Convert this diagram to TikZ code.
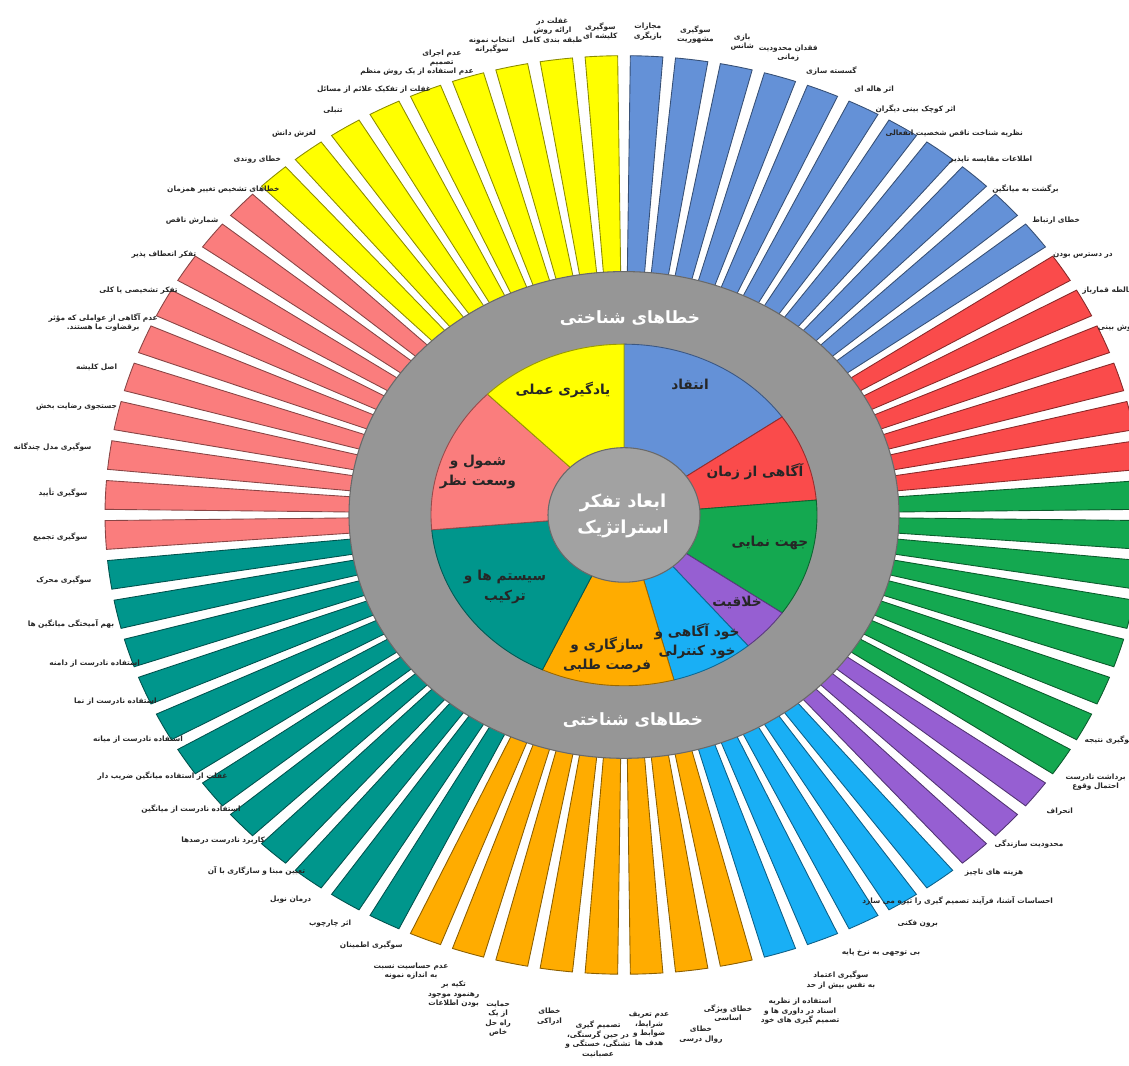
\documentclass[tikz,border=0pt]{standalone}
\usepackage{fontspec}
\TeXXeTstate=1
\newfontfamily\arabicfont[Script=Arabic]{DejaVu Sans}
\newcommand{\fa}[1]{\beginR #1\endR}
\definecolor{cblue}{RGB}{100,145,215}
\definecolor{cred}{RGB}{250,75,75}
\definecolor{cgreen}{RGB}{20,168,80}
\definecolor{cpurple}{RGB}{150,95,210}
\definecolor{ccyan}{RGB}{25,175,245}
\definecolor{corange}{RGB}{255,172,0}
\definecolor{cteal}{RGB}{0,150,140}
\definecolor{cpink}{RGB}{250,125,125}
\definecolor{cyellow}{RGB}{255,255,0}
\definecolor{cring}{RGB}{150,150,150}
\definecolor{ccore}{RGB}{162,162,162}
\tikzset{
  bar/.style={fill=#1, draw=#1!55!black, line width=0.5pt},
  sec/.style={fill=#1, draw=#1!60!black, line width=0.5pt},
  lbl/.style={font=\arabicfont\bfseries\fontsize{4.2}{5.4}\selectfont, align=center, inner sep=1pt, text=black!85},
  seclbl/.style={font=\arabicfont\bfseries\fontsize{7.8}{11}\selectfont, align=center, text=black!85},
  ringlbl/.style={font=\arabicfont\bfseries\fontsize{9.6}{12}\selectfont, text=white},
  corelbl/.style={font=\arabicfont\bfseries\fontsize{10.2}{15}\selectfont, align=center, text=white}
}
\begin{document}
\begin{tikzpicture}[scale=.2, yscale=.885]
\useasboundingbox (-62.4,-62.26) rectangle (50.5,58.19);
\clip (-62.4,-62.26) rectangle (50.5,58.19);

\foreach \s/\n/\c in {90/11/cblue,35/6/cred,5/8/cgreen,-35/3/cpurple,-50/5/ccyan,-75/8/corange,-115/12/cteal,-175/10/cpink,-225/9/cyellow}{
  \foreach \k in {1,...,\n}{
    \pgfmathsetmacro\m{\s-5*\k+2.5}
    \draw[bar=\c] (\m-1.8:25) -- (\m-1.8:51.9) arc[start angle=\m-1.8, end angle=\m+1.8, radius=51.9] -- (\m+1.8:25) -- cycle;
  }
}

\foreach \a/\r/\t in {
  87.5/53.5/{\fa{مجازات}\\\fa{بازیگری}},
  82.5/53.5/{\fa{سوگیری}\\\fa{مشهوریت}},
  77.5/53.5/{\fa{بازی}\\\fa{شانس}},
  72.5/53.5/{\fa{فقدان محدودیت}\\\fa{زمانی}},
  67.5/53.5/{\fa{گسسته سازی}},
  62.5/53.5/{\fa{اثر هاله ای}},
  57.5/53.5/{\fa{اثر کوچک بینی دیگران}},
  52.5/53.5/{\fa{نظریه شناخت ناقص شخصیت انفعالی}},
  47.5/53.5/{\fa{اطلاعات مقایسه ناپذیر}},
  42.5/53.5/{\fa{برگشت به میانگین}},
  37.5/53.5/{\fa{خطای ارتباط}},
  32.5/53.5/{\fa{در دسترس بودن}},
  27.5/53.5/{\fa{مغالطه قمارباز}},
  22.5/53.5/{\fa{سوگیری خوش بینی}},
  -27.5/53.5/{\fa{سوگیری نتیجه}},
  -32.5/54/{\fa{برداشت نادرست}\\\fa{احتمال وقوع}},
  -37.5/54/{\fa{انحراف}},
  -42.5/54/{\fa{محدودیت سازندگی}},
  -47.5/54/{\fa{هزینه های ناچیز}},
  -52.5/54/{\fa{احساسات آشنا، فرآیند تصمیم گیری را تیره می سازد}},
  -57.5/54/{\fa{برون فکنی}},
  -62.5/55/{\fa{بی توجهی به نرخ پایه}},
  -67.5/55.5/{\fa{سوگیری اعتماد}\\\fa{به نفس بیش از حد}},
  -72.5/57/{\fa{استفاده از نظریه}\\\fa{اسناد در داوری ها و}\\\fa{تصمیم گیری های خود}},
  -79.5/56/{\fa{خطای ویژگی}\\\fa{اساسی}},
  -82.5/58/{\fa{خطای}\\\fa{روال درسی}},
  -87.5/56/{\fa{عدم تعریف}\\\fa{شرایط،}\\\fa{ضوابط و}\\\fa{هدف ها}},
  -92.5/57/{\fa{تصمیم گیری}\\\fa{در حین گرسنگی،}\\\fa{تشنگی، خستگی و}\\\fa{عصبانیت}},
  -97.5/56/{\fa{خطای}\\\fa{ادراکی}},
  -102.5/56/{\fa{حمایت}\\\fa{از یک}\\\fa{راه حل}\\\fa{خاص}},
  -107.5/55/{\fa{تکیه بر}\\\fa{رهنمود موجود}\\\fa{بودن اطلاعات}},
  -112.5/54.5/{\fa{عدم حساسیت نسبت}\\\fa{به اندازه نمونه}},
  -117.5/54/{\fa{سوگیری اطمینان}},
  -122.5/54/{\fa{اثر چارچوب}},
  -127.5/54/{\fa{درمان نوبل}},
  -132.5/53.5/{\fa{تعیین مبنا و سازگاری با آن}},
  -137.5/53.5/{\fa{کاربرد نادرست درصدها}},
  -142.5/53.5/{\fa{استفاده نادرست از میانگین}},
  -147.5/53.5/{\fa{غفلت از استفاده میانگین ضریب دار}},
  -152.5/53.5/{\fa{استفاده نادرست از میانه}},
  -157.5/53.5/{\fa{استفاده نادرست از نما}},
  -162.5/53.5/{\fa{استفاده نادرست از دامنه}},
  -167.5/53.5/{\fa{بهم آمیختگی میانگین ها}},
  -172.5/53.5/{\fa{سوگیری محرک}},
  182.5/53.5/{\fa{سوگیری تجمیع}},
  177.5/53.5/{\fa{سوگیری تأیید}},
  172.5/53.5/{\fa{سوگیری مدل چندگانه}},
  167.5/53.5/{\fa{جستجوی رضایت بخش}},
  162.5/53.5/{\fa{اصل کلیشه}},
  157.5/53.5/{\fa{عدم آگاهی از عواملی که مؤثر}\\\fa{برقضاوت ما هستند.}},
  152.5/53.5/{\fa{تفکر تشخیصی یا کلی}},
  147.5/53.5/{\fa{تفکر انعطاف پذیر}},
  142.5/53.5/{\fa{شمارش ناقص}},
  137.5/53.5/{\fa{خطاهای تشخیص تغییر همزمان}},
  132.5/53.5/{\fa{خطای روندی}},
  127.5/53.5/{\fa{لغزش دانش}},
  122.5/53.5/{\fa{تنبلی}},
  117.5/53.5/{\fa{غفلت از تفکیک علائم از مسائل}},
  112.5/53.5/{\fa{عدم استفاده از یک روش منظم}},
  109.5/53.5/{\fa{عدم اجرای}\\\fa{تصمیم}},
  104/53.5/{\fa{انتخاب نمونه}\\\fa{سوگیرانه}},
  97.5/53.5/{\fa{غفلت در}\\\fa{ارائه روش}\\\fa{طبقه بندی کامل}},
  92.5/53.5/{\fa{سوگیری}\\\fa{کلیشه ای}}}{
  \pgfmathsetmacro\b{\a+180}
  \node[lbl, anchor=\b] (bias\a) at (\a:\r) {\t};
}

\draw[fill=cring, draw=cring!70!black, line width=0.6pt] (0,0) circle[radius=27.5];

\foreach \a/\b/\c in {35/90/cblue,5/35/cred,-35/5/cgreen,-50/-35/cpurple,-75/-50/ccyan,-115/-75/corange,-175/-115/cteal,-225/-175/cpink,-270/-225/cyellow}
  \draw[sec=\c] (0,0) -- (\a:19.3) arc[start angle=\a, end angle=\b, radius=19.3] -- cycle;

\draw[fill=ccore, draw=cring!70!black, line width=0.6pt] (0,0) circle[radius=7.6];

\node[ringlbl] (errtop) at (0.6,22.26) {\fa{خطاهای شناختی}};
\node[ringlbl] (errbot) at (0.9,-23.16) {\fa{خطاهای شناختی}};
\node[corelbl] (core) at (-0.1,-0.1) {\fa{ابعاد تفکر}\\\fa{استراتژیک}};

\node[seclbl] (dim1) at (6.6,14.69) {\fa{انتقاد}};
\node[seclbl] (dim2) at (13.1,4.86) {\fa{آگاهی از زمان}};
\node[seclbl] (dim3) at (14.6,-3.16) {\fa{جهت نمایی}};
\node[seclbl] (dim4) at (11.3,-9.94) {\fa{خلاقیت}};
\node[seclbl] (dim5) at (7.3,-14.24) {\fa{خود آگاهی و}\\\fa{خود کنترلی}};
\node[seclbl] (dim6) at (-1.7,-15.82) {\fa{سازگاری و}\\\fa{فرصت طلبی}};
\node[seclbl] (dim7) at (-11.9,-8.14) {\fa{سیستم ها و}\\\fa{ترکیب}};
\node[seclbl] (dim8) at (-14.6,4.86) {\fa{شمول و}\\\fa{وسعت نظر}};
\node[seclbl] (dim9) at (-6.1,14.12) {\fa{یادگیری عملی}};

\end{tikzpicture}
\end{document}
